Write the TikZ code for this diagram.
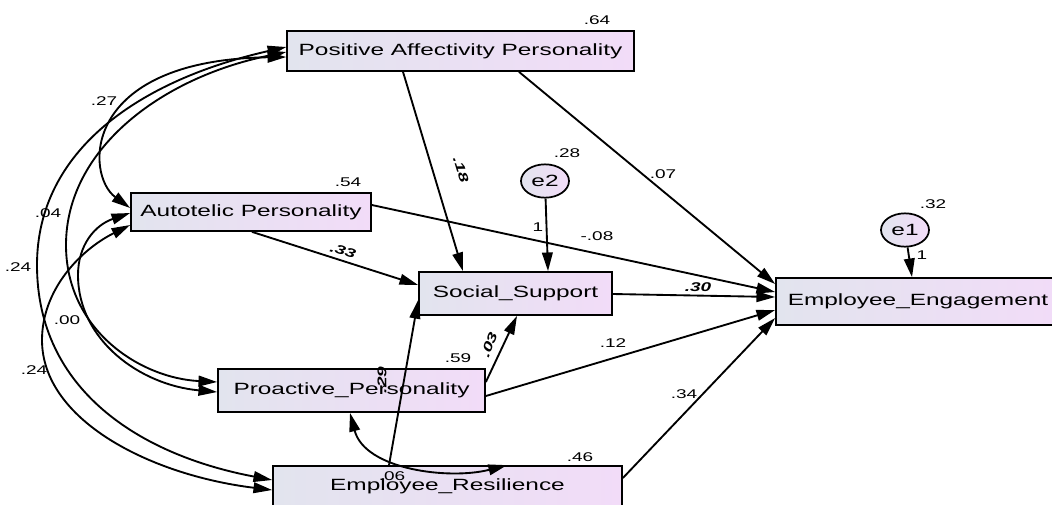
\documentclass[tikz,border=0pt]{standalone}
\usepackage{fontspec}
\setmainfont{Liberation Sans}[FakeStretch=1.5]
\usetikzlibrary{arrows.meta,shapes.geometric}

\definecolor{boxleft}{RGB}{226,228,238}
\definecolor{boxright}{RGB}{242,220,248}

\tikzset{
  var/.style={draw, line width=1.3pt, left color=boxleft, right color=boxright, inner sep=0pt, font=\fontsize{12.2}{14}\selectfont},
  err/.style={var, ellipse, minimum width=36pt, minimum height=25pt},
  path/.style={->, line width=1.4pt},
  cov/.style={<->, line width=1.4pt},
  num/.style={inner sep=0pt, font=\fontsize{9.5}{10}\selectfont},
  coef/.style={inner sep=0pt, font=\fontsize{9.5}{10}\selectfont\bfseries\itshape}
}

\begin{document}
\begin{tikzpicture}[x=0.75pt, y=-0.75pt, >={Triangle[length=14pt,width=8pt]}]
	\useasboundingbox (0,0) rectangle (1052,504);
	% variables
	\node [var, minimum width=260pt, minimum height=30pt] (pap) at (460.5,51) {Positive Affectivity Personality};
	\node [var, minimum width=180pt, minimum height=28.5pt] (ap) at (251,212) {Autotelic Personality};
	\node [var, minimum width=144.75pt, minimum height=32.25pt] (ss) at (515.5,293.5) {Social\_Support};
	\node [var, minimum width=213pt, minimum height=35.25pt] (ee) at (918,301.5) {Employee\_Engagement};
	\node [var, minimum width=200.25pt, minimum height=32.25pt] (pp) at (351.5,390.5) {Proactive\_Personality};
	\node [var, minimum width=261.75pt, minimum height=30pt] (er) at (447.5,486) {Employee\_Resilience};
	\node [err] (e2) at (545,181) {e2};
	\node [err] (e1) at (905,230) {e1};
	% regression paths
	\draw [path] (pap.south -| 403,0) -- (ss.north -| 463,0);
	\draw [path] (pap.south -| 519,0) -- (ee.west |- 0,284);
	\draw [path] (ap.east |- 0,205) -- (ee.west |- 0,292);
	\draw [path] (ap.south -| 252,0) -- (ss.west |- 0,285);
	\draw [path] (e2) -- (ss.north -| 548,0);
	\draw [path] (ss.east |- 0,294) -- (ee.west |- 0,297);
	\draw [path] (pp.east |- 0,382) -- (ss.south -| 517,0);
	\draw [path] (pp.east |- 0,396) -- (ee.west |- 0,310);
	\draw [path] (er.north -| 389,0) -- (ss.west |- 0,300);
	\draw [path] (er.east |- 0,478) -- (ee.west |- 0,318);
	\draw [path] (e1) -- (ee.north -| 912,0);
	% covariances
	\draw [cov] (pap.west |- 0,47) .. controls (140,80) and (37,150) .. (37,265) .. controls (37,390) and (140,455) .. (er.west |- 0,480);
	\draw [cov] (pap.west |- 0,52) .. controls (160,78) and (66,150) .. (66,245) .. controls (66,330) and (140,378) .. (pp.west |- 0,382);
	\draw [cov] (pap.west |- 0,57) .. controls (80,60) and (85,175) .. (ap.west |- 0,208);
	\draw [cov] (ap.west |- 0,213) .. controls (95,225) and (78,245) .. (78,275) .. controls (78,340) and (140,385) .. (pp.west |- 0,392);
	\draw [cov] (ap.west |- 0,225) .. controls (80,250) and (42,290) .. (42,340) .. controls (42,420) and (150,475) .. (er.west |- 0,490);
	\draw [cov] (pp.south -| 350,0) .. controls (365,470) and (450,480) .. (er.north -| 507,0);
	% estimates
	\node [num] (v64) at (597,20) {.64};
	\node [num] (v54) at (348,182) {.54};
	\node [num] (v28) at (567,153) {.28};
	\node [num] (v32) at (933,204) {.32};
	\node [num] (v59) at (458,358) {.59};
	\node [num] (v46) at (580,457) {.46};
	\node [num] (w2) at (538,227) {1};
	\node [num] (w1) at (922,255) {1};
	\node [num] (b07) at (663,174) {.07};
	\node [num] (b08) at (597,236) {-.08};
	\node [coef] (b30) at (698,287) {.30};
	\node [num] (b12) at (613,343) {.12};
	\node [num] (b34) at (684,394) {.34};
	\node [coef, rotate=-18] (b33) at (343,251) {.33};
	\node [coef, rotate=-73] (b18) at (461,170) {.18};
	\node [coef, rotate=70] (b03) at (489,345) {.03};
	\node [coef, rotate=90] (b29) at (382,380) {.29};
	\node [num] (c27) at (104,101) {.27};
	\node [num] (c04) at (48,213) {.04};
	\node [num] (c24a) at (18,267) {.24};
	\node [num] (c00) at (67,320) {.00};
	\node [num] (c24b) at (34,370) {.24};
	\node [num] (c06) at (392,476) {.06};
\end{tikzpicture}
\end{document}
